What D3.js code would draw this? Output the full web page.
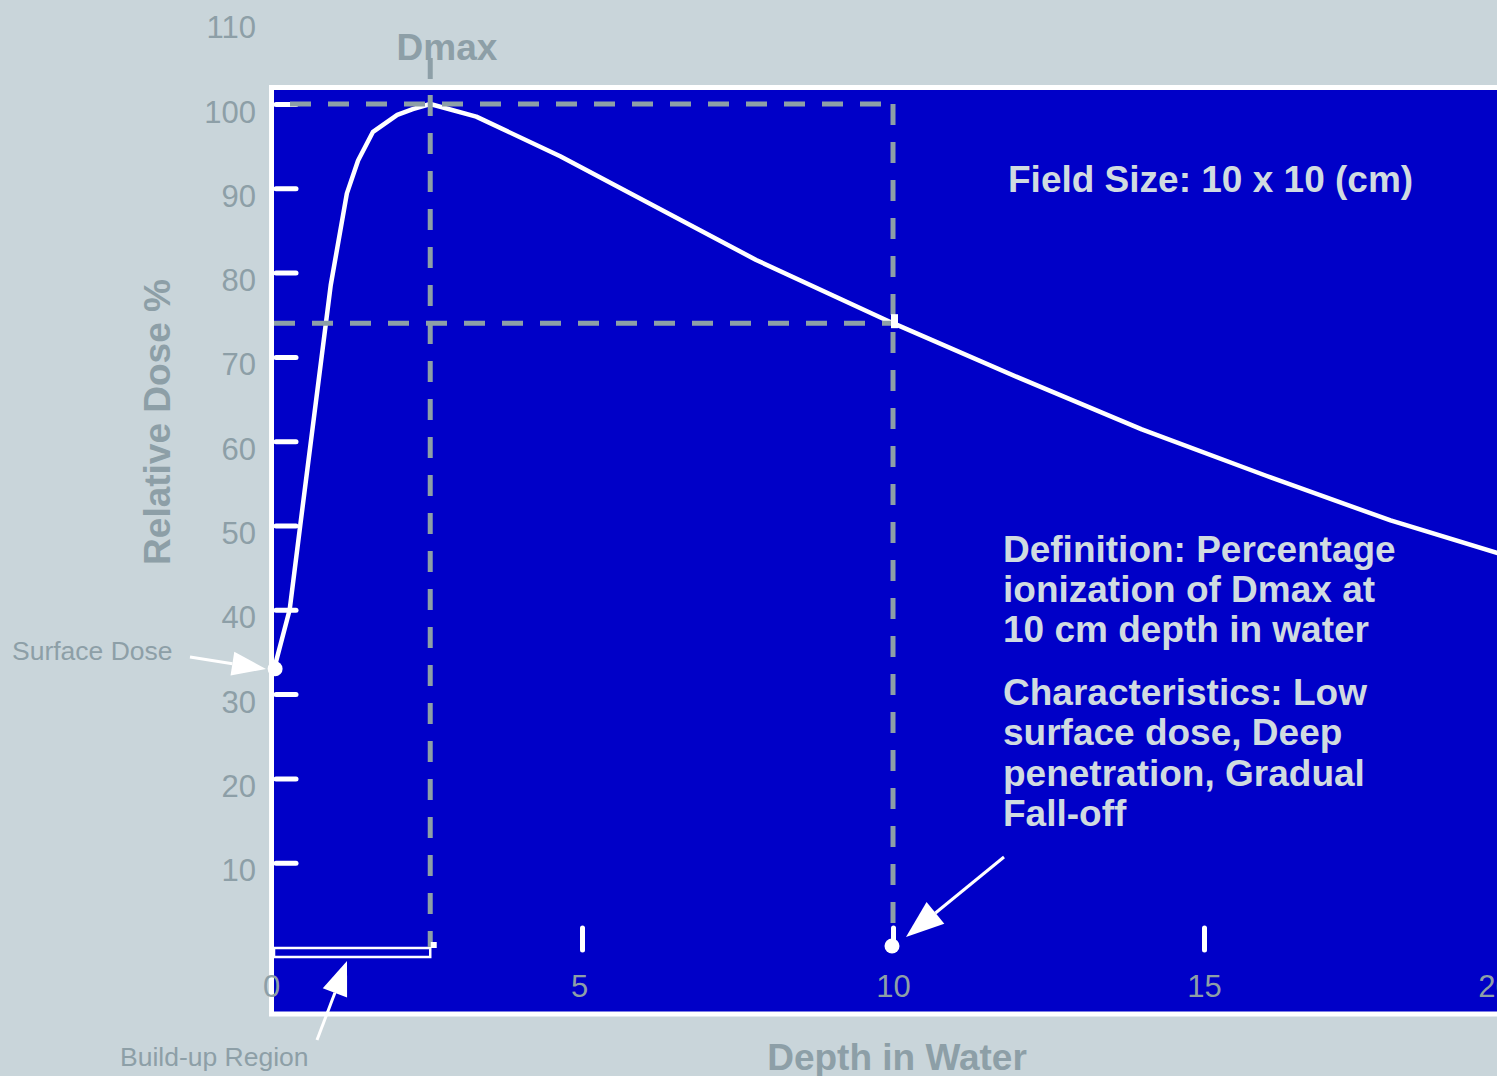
<!DOCTYPE html>
<html>
<head>
<meta charset="utf-8">
<script src="https://cdn.jsdelivr.net/npm/d3@7"></script>
<style>
  html, body { margin: 0; padding: 0; background: #c9d5da; overflow: hidden; }
  svg { display: block; font-family: "Liberation Sans", Arial, sans-serif; }
</style>
</head>
<body>
<svg id="chart"></svg>
<script>
// depth dose curve
const depths = [0.05, 0.3, 0.47, 0.96, 1.22, 1.4, 1.64, 2.03, 2.28, 2.56, 3.3, 4.65, 7.8, 10, 12, 14, 16, 18, 20];
const doses  = [33, 40, 50, 78.5, 89.4, 93.3, 96.7, 98.7, 99.4, 100, 98.5, 93.8, 81.5, 74, 67.6, 61.4, 55.9, 50.6, 46.1];

const yTicks = [10, 20, 30, 40, 50, 60, 70, 80, 90, 100, 110];
const xTicks = [0, 5, 10, 15, 20];

const dmaxDepth = 2.56;
const refDepth = 10;
const refDose = 74;
const surfaceDose = 33;

const definitionLines = ['Definition: Percentage', 'ionization of Dmax at', '10 cm depth in water'];
const characteristicsLines = ['Characteristics: Low', 'surface dose, Deep', 'penetration, Gradual', 'Fall-off'];

function drawChart() {
    const width = 1497;
    const height = 1076;

    const grey = '#8d9fa7';
    const blue = '#0000c8';
    const light = '#d0dbe0';

    const svg = d3.select('#chart')
        .attr('width', width)
        .attr('height', height);

    svg.append('rect')
        .attr('width', width)
        .attr('height', height)
        .attr('fill', '#c9d5da');

    const x = d3.scaleLinear().domain([0, 20]).range([271, 1515]);
    const y = d3.scaleLinear().domain([0, 110]).range([947, 19.7]);

    // plot area
    svg.append('rect')
        .attr('x', 271.5)
        .attr('y', 87.5)
        .attr('width', 1260)
        .attr('height', 926.5)
        .attr('fill', blue)
        .attr('stroke', 'white')
        .attr('stroke-width', 5);

    // build-up region box
    svg.append('rect')
        .attr('x', x(0) + 3)
        .attr('y', y(0) + 1)
        .attr('width', x(dmaxDepth) - x(0) - 3)
        .attr('height', 9)
        .attr('fill', 'none')
        .attr('stroke', 'white')
        .attr('stroke-width', 2.5);

    // y axis
    const yAxis = svg.append('g')
        .attr('transform', 'translate(274, 0)')
        .call(d3.axisLeft(y).tickValues(yTicks).tickSizeInner(-22).tickSizeOuter(0).tickPadding(18));
    yAxis.select('.domain').remove();
    yAxis.selectAll('.tick line')
        .attr('stroke', 'white')
        .attr('stroke-width', 5)
        .attr('stroke-linecap', 'round')
        .attr('x1', 2)
        .style('display', d => d > 100 ? 'none' : null);
    yAxis.selectAll('.tick text')
        .attr('dy', 18)
        .attr('fill', grey)
        .style('font-size', '31px')
        .style('font-family', '"Liberation Sans", Arial, sans-serif');

    // x axis
    const xAxis = svg.append('g')
        .attr('transform', 'translate(0, 950)')
        .call(d3.axisBottom(x).tickValues(xTicks).tickSizeInner(-22).tickSizeOuter(0));
    xAxis.select('.domain').remove();
    xAxis.selectAll('.tick line')
        .attr('stroke', 'white')
        .attr('stroke-width', 5)
        .attr('stroke-linecap', 'round')
        .style('display', d => d === 0 ? 'none' : null);
    xAxis.selectAll('.tick text')
        .attr('y', 47)
        .attr('dy', 0)
        .attr('dx', d => d === 20 ? -20 : (d === 5 ? -3 : 0))
        .attr('fill', grey)
        .style('font-size', '31px')
        .style('font-family', '"Liberation Sans", Arial, sans-serif');

    // dose curve
    const line = d3.line()
        .x(d => x(d[0]))
        .y(d => y(d[1]));

    svg.append('path')
        .datum(depths.map((d, i) => [d, doses[i]]))
        .attr('d', line)
        .attr('fill', 'none')
        .attr('stroke', 'white')
        .attr('stroke-width', 4.5)
        .attr('stroke-linejoin', 'round');

    // dashed guides
    const dashed = (x1, y1, x2, y2) => svg.append('line')
        .attr('x1', x1).attr('y1', y1)
        .attr('x2', x2).attr('y2', y2)
        .attr('stroke', grey)
        .attr('stroke-width', 5)
        .attr('stroke-dasharray', '21,17');

    dashed(290, y(100), x(refDepth), y(100));
    dashed(274, y(refDose), x(refDepth), y(refDose));
    dashed(x(dmaxDepth), 95, x(dmaxDepth), y(0));
    dashed(x(refDepth), y(100), x(refDepth), y(0));

    // Dmax tick above the plot
    svg.append('line')
        .attr('x1', x(dmaxDepth)).attr('y1', 58)
        .attr('x2', x(dmaxDepth)).attr('y2', 79)
        .attr('stroke', grey)
        .attr('stroke-width', 5);

    // small markers
    svg.append('rect')
        .attr('x', x(dmaxDepth) + 0.5)
        .attr('y', y(0) - 5)
        .attr('width', 6)
        .attr('height', 6)
        .attr('fill', 'white');

    svg.append('rect')
        .attr('x', x(refDepth) - 2)
        .attr('y', y(refDose) - 9)
        .attr('width', 7)
        .attr('height', 14)
        .attr('fill', 'white');

    svg.append('circle')
        .attr('cx', x(depths[0]) + 1)
        .attr('cy', y(surfaceDose))
        .attr('r', 7.5)
        .attr('fill', 'white');

    svg.append('circle')
        .attr('cx', x(refDepth) - 1)
        .attr('cy', y(0) - 1)
        .attr('r', 7.5)
        .attr('fill', 'white');

    // arrows
    function arrow(x1, y1, x2, y2, len, half) {
        const a = Math.atan2(y2 - y1, x2 - x1);
        const bx = x2 - len * Math.cos(a);
        const by = y2 - len * Math.sin(a);
        svg.append('line')
            .attr('x1', x1).attr('y1', y1)
            .attr('x2', bx).attr('y2', by)
            .attr('stroke', 'white')
            .attr('stroke-width', 3);
        const pts = [
            [x2, y2],
            [bx + half * Math.sin(a), by - half * Math.cos(a)],
            [bx - half * Math.sin(a), by + half * Math.cos(a)]
        ];
        svg.append('polygon')
            .attr('points', pts.map(p => p.join(',')).join(' '))
            .attr('fill', 'white');
    }

    arrow(190, 657, 266, 669, 34, 12);
    arrow(317, 1040, 347, 961, 34, 13);
    arrow(1004, 857, 906, 937, 38, 14);

    // labels
    svg.append('text')
        .text('Surface Dose')
        .attr('x', 12)
        .attr('y', 660)
        .attr('fill', grey)
        .style('font-size', '26.5px');

    svg.append('text')
        .text('Build-up Region')
        .attr('x', 120)
        .attr('y', 1066)
        .attr('fill', grey)
        .style('font-size', '26.5px');

    svg.append('text')
        .text('Dmax')
        .attr('x', 447)
        .attr('y', 60)
        .attr('text-anchor', 'middle')
        .attr('fill', grey)
        .style('font-size', '37px')
        .style('font-weight', 'bold');

    svg.append('text')
        .text('Depth in Water')
        .attr('x', 897)
        .attr('y', 1070)
        .attr('text-anchor', 'middle')
        .attr('fill', grey)
        .style('font-size', '37px')
        .style('font-weight', 'bold');

    svg.append('text')
        .text('Relative Dose %')
        .attr('transform', 'translate(170, 422) rotate(-90)')
        .attr('text-anchor', 'middle')
        .attr('fill', grey)
        .style('font-size', '37px')
        .style('font-weight', 'bold');

    svg.append('text')
        .text('Field Size: 10 x 10 (cm)')
        .attr('x', 1008)
        .attr('y', 192)
        .attr('fill', light)
        .style('font-size', '37px')
        .style('font-weight', 'bold');

    svg.selectAll('.def-line')
        .data(definitionLines)
        .enter().append('text')
        .attr('class', 'def-line')
        .text(d => d)
        .attr('x', 1003)
        .attr('y', (d, i) => 562 + i * 40.2)
        .attr('fill', light)
        .style('font-size', '37px')
        .style('font-weight', 'bold');

    svg.selectAll('.char-line')
        .data(characteristicsLines)
        .enter().append('text')
        .attr('class', 'char-line')
        .text(d => d)
        .attr('x', 1003)
        .attr('y', (d, i) => 705 + i * 40.3)
        .attr('fill', light)
        .style('font-size', '37px')
        .style('font-weight', 'bold');
}

window.addEventListener('load', drawChart);
</script>
</body>
</html>
